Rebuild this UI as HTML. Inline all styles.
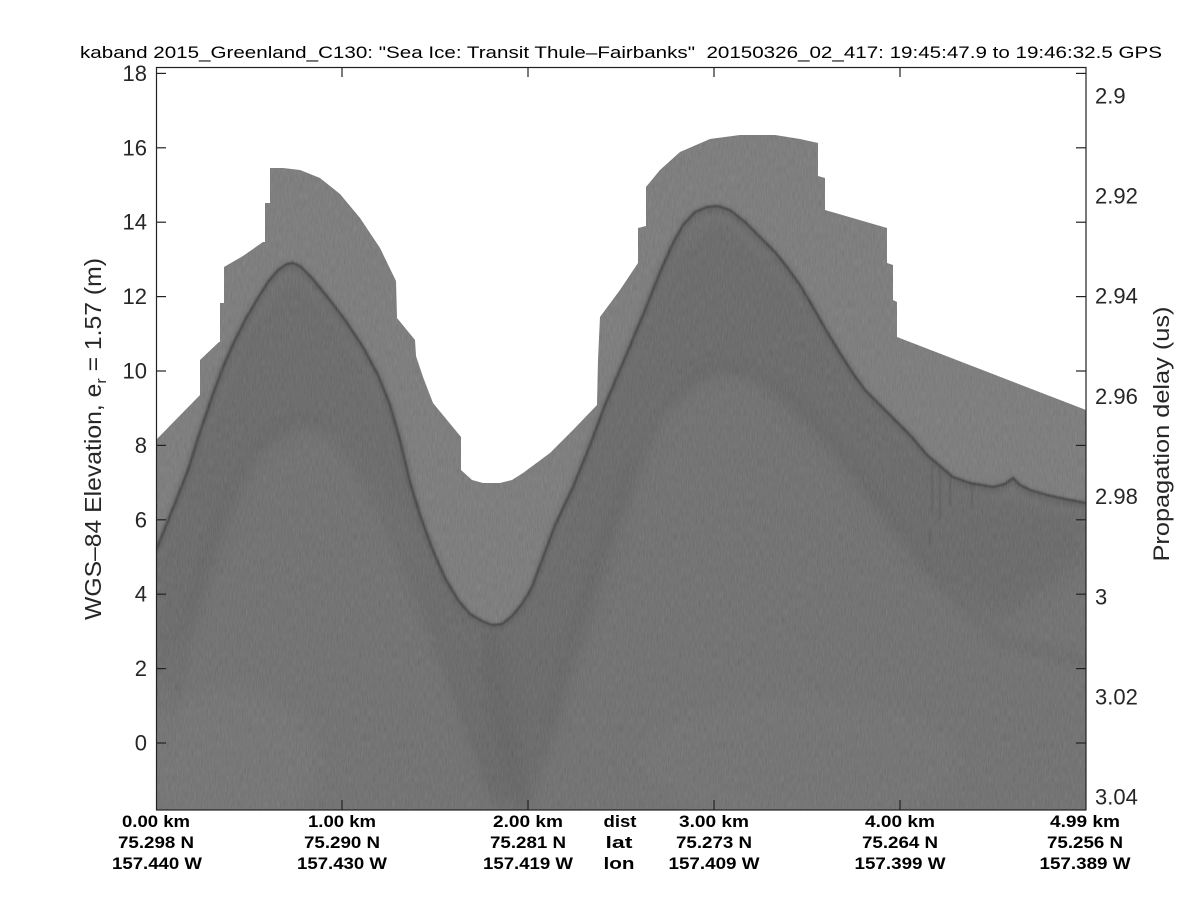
<!DOCTYPE html>
<html>
<head>
<meta charset="utf-8">
<style>
  html,body{margin:0;padding:0;background:#fff;}
  svg{display:block;}
  text{font-family:"Liberation Sans", Arial, sans-serif;fill:#262626;}
  .b{font-weight:bold;fill:#000;font-size:17px;}
</style>
</head>
<body>
<svg width="1200" height="900" viewBox="0 0 1200 900" xmlns="http://www.w3.org/2000/svg">
  <defs>
    <clipPath id="plot"><rect x="156" y="67" width="930" height="743"/></clipPath>
    <clipPath id="gclip">
      <path id="gpath" d="M156,440 L200,395 L200,360 L219,342 L220,342 L220,303 L224,303 L224,267 L243,256 L263,242 L265,242 L265,203 L270,203 L270,168 L283,168 L300,170 L320,178 L340,194 L360,218 L380,248 L396,281 L397,318 L415,340 L416,356 L423,377 L433,403 L461,437 L461,470 L472,480 L483,483 L500,483 L512,480 L523,473 L550,453 L573,430 L597,405 L598,360 L600,317 L620,290 L638,263 L638,228 L646,226 L646,187 L660,170 L680,152 L710,139 L740,135 L775,135 L800,139 L818,143 L818,176 L825,178 L825,210 L887,228 L887,263 L893,265 L893,300 L897,302 L897,337 L1086,410 L1086,810 L156,810 Z"/>
    </clipPath>
    <clipPath id="below">
      <path d="M156,550 L165,528 L175,503 L188,470 L199,435 L212,397 L223,367 L235,340 L246,318 L258,298 L268,282 L278,270 L287,264 L293,263 L300,266 L312,278 L325,294 L343,317 L363,347 L378,375 L390,405 L400,440 L410,482 L420,515 L432,548 L445,578 L458,600 L470,614 L482,621 L492,625 L502,624 L512,616 L522,604 L532,587 L542,560 L555,525 L573,487 L590,445 L605,405 L627,353 L645,310 L660,272 L672,245 L683,225 L695,212 L707,207 L718,206 L730,210 L745,222 L760,237 L775,252 L787,267 L800,285 L813,307 L826,330 L840,353 L852,372 L865,390 L880,405 L893,418 L910,435 L927,455 L940,466 L953,477 L970,483 L993,487 L1005,484 L1013,478 L1020,485 L1030,490 L1047,495 L1065,499 L1086,503 L1086,810 L156,810 Z"/>
    </clipPath>
    <filter id="blur8" x="-20%" y="-20%" width="140%" height="140%"><feGaussianBlur stdDeviation="8"/></filter>
    <filter id="blur4" x="-20%" y="-20%" width="140%" height="140%"><feGaussianBlur stdDeviation="4"/></filter>
    <filter id="blur1" x="-5%" y="-5%" width="110%" height="110%"><feGaussianBlur stdDeviation="0.8"/></filter>
    <filter id="blur2" x="-5%" y="-5%" width="110%" height="110%"><feGaussianBlur stdDeviation="2"/></filter>
    <filter id="nz" x="0" y="0" width="100%" height="100%" color-interpolation-filters="sRGB">
      <feTurbulence type="fractalNoise" baseFrequency="0.8 0.12" numOctaves="2" seed="7"/>
      <feColorMatrix type="matrix" values="0.33 0.33 0.33 0 0  0.33 0.33 0.33 0 0  0.33 0.33 0.33 0 0  0 0 0 0 1"/>
    </filter>
  </defs>

  <!-- radargram -->
  <g clip-path="url(#plot)">
    <g clip-path="url(#gclip)">
      <rect x="156" y="67" width="930" height="743" fill="#7f7f7f"/>
      <g clip-path="url(#below)">
        <rect x="156" y="67" width="930" height="743" fill="#737373"/>
        <!-- darker band right under surface -->
        <path d="M156,560 L199,445 L246,328 L293,273 L343,327 L390,415 L432,558 L482,631 L502,634 L542,570 L605,415 L672,255 L718,216 L787,277 L852,382 L910,445 L970,493 L1086,513 L1086,560 L1000,620 L920,570 L840,460 L760,380 L720,372 L660,410 L610,560 L560,720 L520,800 L490,800 L450,680 L400,520 L340,430 L300,425 L250,460 L200,600 L156,700 Z" fill="#666666" opacity="0.55" filter="url(#blur8)"/>
        <!-- ghost arcs -->
        <path d="M168,760 C185,600 235,425 300,418 C365,420 420,600 500,805" fill="none" stroke="#5e5e5e" stroke-width="9" opacity="0.22" filter="url(#blur4)"/>
        <path d="M525,812 C570,640 640,370 720,366 C820,370 900,560 1000,640 L1086,662" fill="none" stroke="#5e5e5e" stroke-width="12" opacity="0.22" filter="url(#blur4)"/>
        <!-- V under valley -->
        <path d="M488,630 L498,700 L510,760 L522,812" fill="none" stroke="#5e5e5e" stroke-width="22" opacity="0.4" filter="url(#blur8)"/>
        <!-- lighter lower-left -->
        <ellipse cx="230" cy="760" rx="90" ry="70" fill="#7c7c7c" opacity="0.5" filter="url(#blur8)"/>
        <ellipse cx="800" cy="760" rx="160" ry="60" fill="#797979" opacity="0.45" filter="url(#blur8)"/>
        <!-- streaks right side -->
        <g stroke="#4a4a4a" stroke-width="1.5" opacity="0.45" filter="url(#blur1)">
          <line x1="932" y1="465" x2="932" y2="510"/>
          <line x1="940" y1="470" x2="940" y2="520"/>
          <line x1="950" y1="475" x2="950" y2="505"/>
          <line x1="972" y1="483" x2="972" y2="508"/>
          <line x1="930" y1="530" x2="930" y2="545"/>
        </g>
      </g>
      <!-- surface line -->
      <polyline points="156,552 165,530 175,505 188,472 199,437 212,399 223,369 235,342 246,320 258,300 268,284 278,272 287,266 293,265 300,268 312,280 325,296 343,319 363,349 378,377 390,407 400,442 410,484 420,517 432,550 445,580 458,602 470,616 482,623 492,627 502,626 512,618 522,606 532,589 542,562 555,527 573,489 590,447 605,407 627,355 645,312 660,274 672,247 683,227 695,214 707,209 718,208 730,212 745,224 760,239 775,254 787,269 800,287 813,309 826,332 840,355 852,374 865,392 880,407 893,420 910,437 927,457 940,468 953,479 970,485 993,489 1005,486 1013,480 1020,487 1030,492 1047,497 1065,501 1086,505" fill="none" stroke="#555" stroke-width="7" opacity="0.45" stroke-linejoin="round" filter="url(#blur2)"/>
      <polyline points="156,550 165,528 175,503 188,470 199,435 212,397 223,367 235,340 246,318 258,298 268,282 278,270 287,264 293,263 300,266 312,278 325,294 343,317 363,347 378,375 390,405 400,440 410,482 420,515 432,548 445,578 458,600 470,614 482,621 492,625 502,624 512,616 522,604 532,587 542,560 555,525 573,487 590,445 605,405 627,353 645,310 660,272 672,245 683,225 695,212 707,207 718,206 730,210 745,222 760,237 775,252 787,267 800,285 813,307 826,330 840,353 852,372 865,390 880,405 893,418 910,435 927,455 940,466 953,477 970,483 993,487 1005,484 1013,478 1020,485 1030,490 1047,495 1065,499 1086,503" fill="none" stroke="#353535" stroke-width="2.2" opacity="0.75" stroke-linejoin="round" filter="url(#blur1)"/>
      <!-- noise -->
      <rect x="156" y="67" width="930" height="743" filter="url(#nz)" opacity="0.14"/>
    </g>
  </g>

  <!-- axes box -->
  <rect x="156.5" y="67.5" width="929.5" height="742.5" fill="none" stroke="#222" stroke-width="1.2"/>
  <!-- ticks -->
  <g stroke="#222" stroke-width="1.2">
    <line x1="156" y1="73.4" x2="166" y2="73.4"/><line x1="1086" y1="73.4" x2="1076" y2="73.4"/>
    <line x1="156" y1="147.8" x2="166" y2="147.8"/><line x1="1086" y1="147.8" x2="1076" y2="147.8"/>
    <line x1="156" y1="222.2" x2="166" y2="222.2"/><line x1="1086" y1="222.2" x2="1076" y2="222.2"/>
    <line x1="156" y1="296.6" x2="166" y2="296.6"/><line x1="1086" y1="296.6" x2="1076" y2="296.6"/>
    <line x1="156" y1="371" x2="166" y2="371"/><line x1="1086" y1="371" x2="1076" y2="371"/>
    <line x1="156" y1="445.4" x2="166" y2="445.4"/><line x1="1086" y1="445.4" x2="1076" y2="445.4"/>
    <line x1="156" y1="519.8" x2="166" y2="519.8"/><line x1="1086" y1="519.8" x2="1076" y2="519.8"/>
    <line x1="156" y1="594.2" x2="166" y2="594.2"/><line x1="1086" y1="594.2" x2="1076" y2="594.2"/>
    <line x1="156" y1="668.6" x2="166" y2="668.6"/><line x1="1086" y1="668.6" x2="1076" y2="668.6"/>
    <line x1="156" y1="743" x2="166" y2="743"/><line x1="1086" y1="743" x2="1076" y2="743"/>
    <line x1="342" y1="67" x2="342" y2="77"/><line x1="342" y1="810" x2="342" y2="800"/>
    <line x1="528" y1="67" x2="528" y2="77"/><line x1="528" y1="810" x2="528" y2="800"/>
    <line x1="714" y1="67" x2="714" y2="77"/><line x1="714" y1="810" x2="714" y2="800"/>
    <line x1="900" y1="67" x2="900" y2="77"/><line x1="900" y1="810" x2="900" y2="800"/>
  </g>

  <!-- title -->
  <text x="621" y="58" font-size="16.5" text-anchor="middle" textLength="1082" lengthAdjust="spacingAndGlyphs" style="white-space:pre;fill:#000">kaband 2015_Greenland_C130: "Sea Ice: Transit Thule–Fairbanks"  20150326_02_417: 19:45:47.9 to 19:46:32.5 GPS</text>

  <!-- left tick labels -->
  <g font-size="22" text-anchor="end">
    <text x="147" y="81">18</text>
    <text x="147" y="155.3">16</text>
    <text x="147" y="229.7">14</text>
    <text x="147" y="304.1">12</text>
    <text x="147" y="378.5">10</text>
    <text x="147" y="452.9">8</text>
    <text x="147" y="527.3">6</text>
    <text x="147" y="601.7">4</text>
    <text x="147" y="676.1">2</text>
    <text x="147" y="750.5">0</text>
  </g>

  <!-- right tick labels -->
  <g font-size="22" text-anchor="start">
    <text x="1095" y="103.3">2.9</text>
    <text x="1095" y="203.5">2.92</text>
    <text x="1095" y="303.7">2.94</text>
    <text x="1095" y="403.9">2.96</text>
    <text x="1095" y="504.1">2.98</text>
    <text x="1095" y="604.3">3</text>
    <text x="1095" y="704.5">3.02</text>
    <text x="1095" y="804.7">3.04</text>
  </g>

  <!-- y labels -->
  <text transform="translate(101,439) rotate(-90)" font-size="23" text-anchor="middle" textLength="362" lengthAdjust="spacingAndGlyphs">WGS–84 Elevation, e<tspan font-size="15" dy="5">r</tspan><tspan dy="-5"> = 1.57 (m)</tspan></text>
  <text transform="translate(1169,434) rotate(-90)" font-size="22" text-anchor="middle" textLength="255" lengthAdjust="spacingAndGlyphs">Propagation delay (us)</text>

  <!-- bottom labels -->
  <g class="b" text-anchor="middle">
    <text class="b" x="156" y="827" textLength="68" lengthAdjust="spacingAndGlyphs">0.00 km</text>
    <text class="b" x="156" y="848" textLength="76" lengthAdjust="spacingAndGlyphs">75.298 N</text>
    <text class="b" x="157" y="869" textLength="90" lengthAdjust="spacingAndGlyphs">157.440 W</text>

    <text class="b" x="342" y="827" textLength="68" lengthAdjust="spacingAndGlyphs">1.00 km</text>
    <text class="b" x="342" y="848" textLength="76" lengthAdjust="spacingAndGlyphs">75.290 N</text>
    <text class="b" x="342" y="869" textLength="90" lengthAdjust="spacingAndGlyphs">157.430 W</text>

    <text class="b" x="528" y="827" textLength="70" lengthAdjust="spacingAndGlyphs">2.00 km</text>
    <text class="b" x="528" y="848" textLength="76" lengthAdjust="spacingAndGlyphs">75.281 N</text>
    <text class="b" x="528" y="869" textLength="90" lengthAdjust="spacingAndGlyphs">157.419 W</text>

    <text class="b" x="620" y="827" textLength="33" lengthAdjust="spacingAndGlyphs">dist</text>
    <text class="b" x="619" y="848" textLength="27" lengthAdjust="spacingAndGlyphs">lat</text>
    <text class="b" x="619" y="869" textLength="31" lengthAdjust="spacingAndGlyphs">lon</text>

    <text class="b" x="714" y="827" textLength="70" lengthAdjust="spacingAndGlyphs">3.00 km</text>
    <text class="b" x="714" y="848" textLength="76" lengthAdjust="spacingAndGlyphs">75.273 N</text>
    <text class="b" x="714" y="869" textLength="91" lengthAdjust="spacingAndGlyphs">157.409 W</text>

    <text class="b" x="900" y="827" textLength="70" lengthAdjust="spacingAndGlyphs">4.00 km</text>
    <text class="b" x="900" y="848" textLength="76" lengthAdjust="spacingAndGlyphs">75.264 N</text>
    <text class="b" x="900" y="869" textLength="91" lengthAdjust="spacingAndGlyphs">157.399 W</text>

    <text class="b" x="1085" y="827" textLength="70" lengthAdjust="spacingAndGlyphs">4.99 km</text>
    <text class="b" x="1085" y="848" textLength="76" lengthAdjust="spacingAndGlyphs">75.256 N</text>
    <text class="b" x="1085" y="869" textLength="91" lengthAdjust="spacingAndGlyphs">157.389 W</text>
  </g>
</svg>
</body>
</html>
